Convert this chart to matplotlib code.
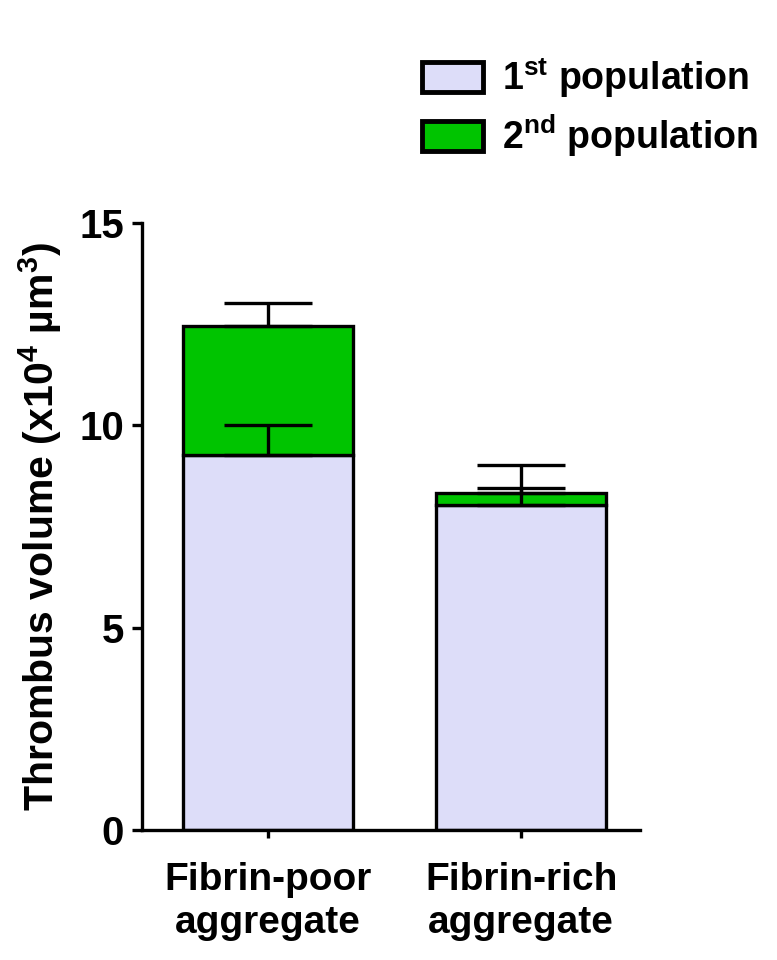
import matplotlib
matplotlib.use("Agg")
import matplotlib.pyplot as plt
from matplotlib.patches import Patch

plt.rcParams['font.family'] = ['Liberation Sans', 'DejaVu Sans']
plt.rcParams['font.weight'] = 'bold'
plt.rcParams['mathtext.fontset'] = 'custom'
plt.rcParams['mathtext.rm'] = 'Liberation Sans:bold'
plt.rcParams['mathtext.bf'] = 'Liberation Sans:bold'
plt.rcParams['mathtext.default'] = 'bf'

# Data (x10^4 um^3)
categories = ["Fibrin-poor\naggregate", "Fibrin-rich\naggregate"]
first_pop = [9.27, 8.03]
second_pop = [3.18, 0.30]
first_err = [0.73, 0.42]
total_err = [0.57, 0.69]
yticks = [0, 5, 10, 15]

lavender = "#DDDDF9"
green = "#00C400"
lw = 2.4

fig = plt.figure(figsize=(7.77, 9.6), dpi=100)
ax = fig.add_axes([0.1828, 0.1354, 0.6410, 0.6323])

x = list(range(len(categories)))
width = 0.67
ax.bar(x, first_pop, width, color=lavender, edgecolor="black", linewidth=lw, zorder=2)
ax.bar(x, second_pop, width, bottom=first_pop, color=green, edgecolor="black",
       linewidth=lw, zorder=2)

totals = [a + b for a, b in zip(first_pop, second_pop)]
ax.errorbar(x, first_pop, yerr=[[0] * len(x), first_err], fmt="none", ecolor="black",
            elinewidth=lw, capsize=31.7, capthick=lw, zorder=3)
ax.errorbar(x, totals, yerr=[[0] * len(x), total_err], fmt="none", ecolor="black",
            elinewidth=lw, capsize=31.7, capthick=lw, zorder=3)

ax.set_xlim(-0.498, 1.47)
ax.set_ylim(0, 15)
ax.set_yticks(yticks)
ax.set_yticklabels([str(t) for t in yticks], fontsize=29, fontweight="bold")
ax.set_xticks(x)
ax.set_xticklabels(categories, fontsize=28, fontweight="bold", linespacing=1.25)
ax.tick_params(axis="y", direction="out", length=7, width=lw, pad=6)
ax.tick_params(axis="x", direction="out", length=6, width=lw, pad=17)
for side in ("top", "right"):
    ax.spines[side].set_visible(False)
for side in ("left", "bottom"):
    ax.spines[side].set_linewidth(lw)

ax.set_ylabel("Thrombus volume (x10$^4$ µm$^3$)", fontsize=29.5, fontweight="bold",
              labelpad=11)

handles = [Patch(facecolor=lavender, edgecolor="black", linewidth=3.5),
           Patch(facecolor=green, edgecolor="black", linewidth=3.5)]
labels = ["1$^{st}$ population", "2$^{nd}$ population"]
fig.legend(handles, labels, loc="upper left", bbox_to_anchor=(0.543, 0.943),
           frameon=False, fontsize=27, handlelength=1.63, handleheight=0.85,
           handletextpad=0.5, labelspacing=0.34, borderpad=0, borderaxespad=0)

fig.savefig("out.png", dpi=100, facecolor="white")
